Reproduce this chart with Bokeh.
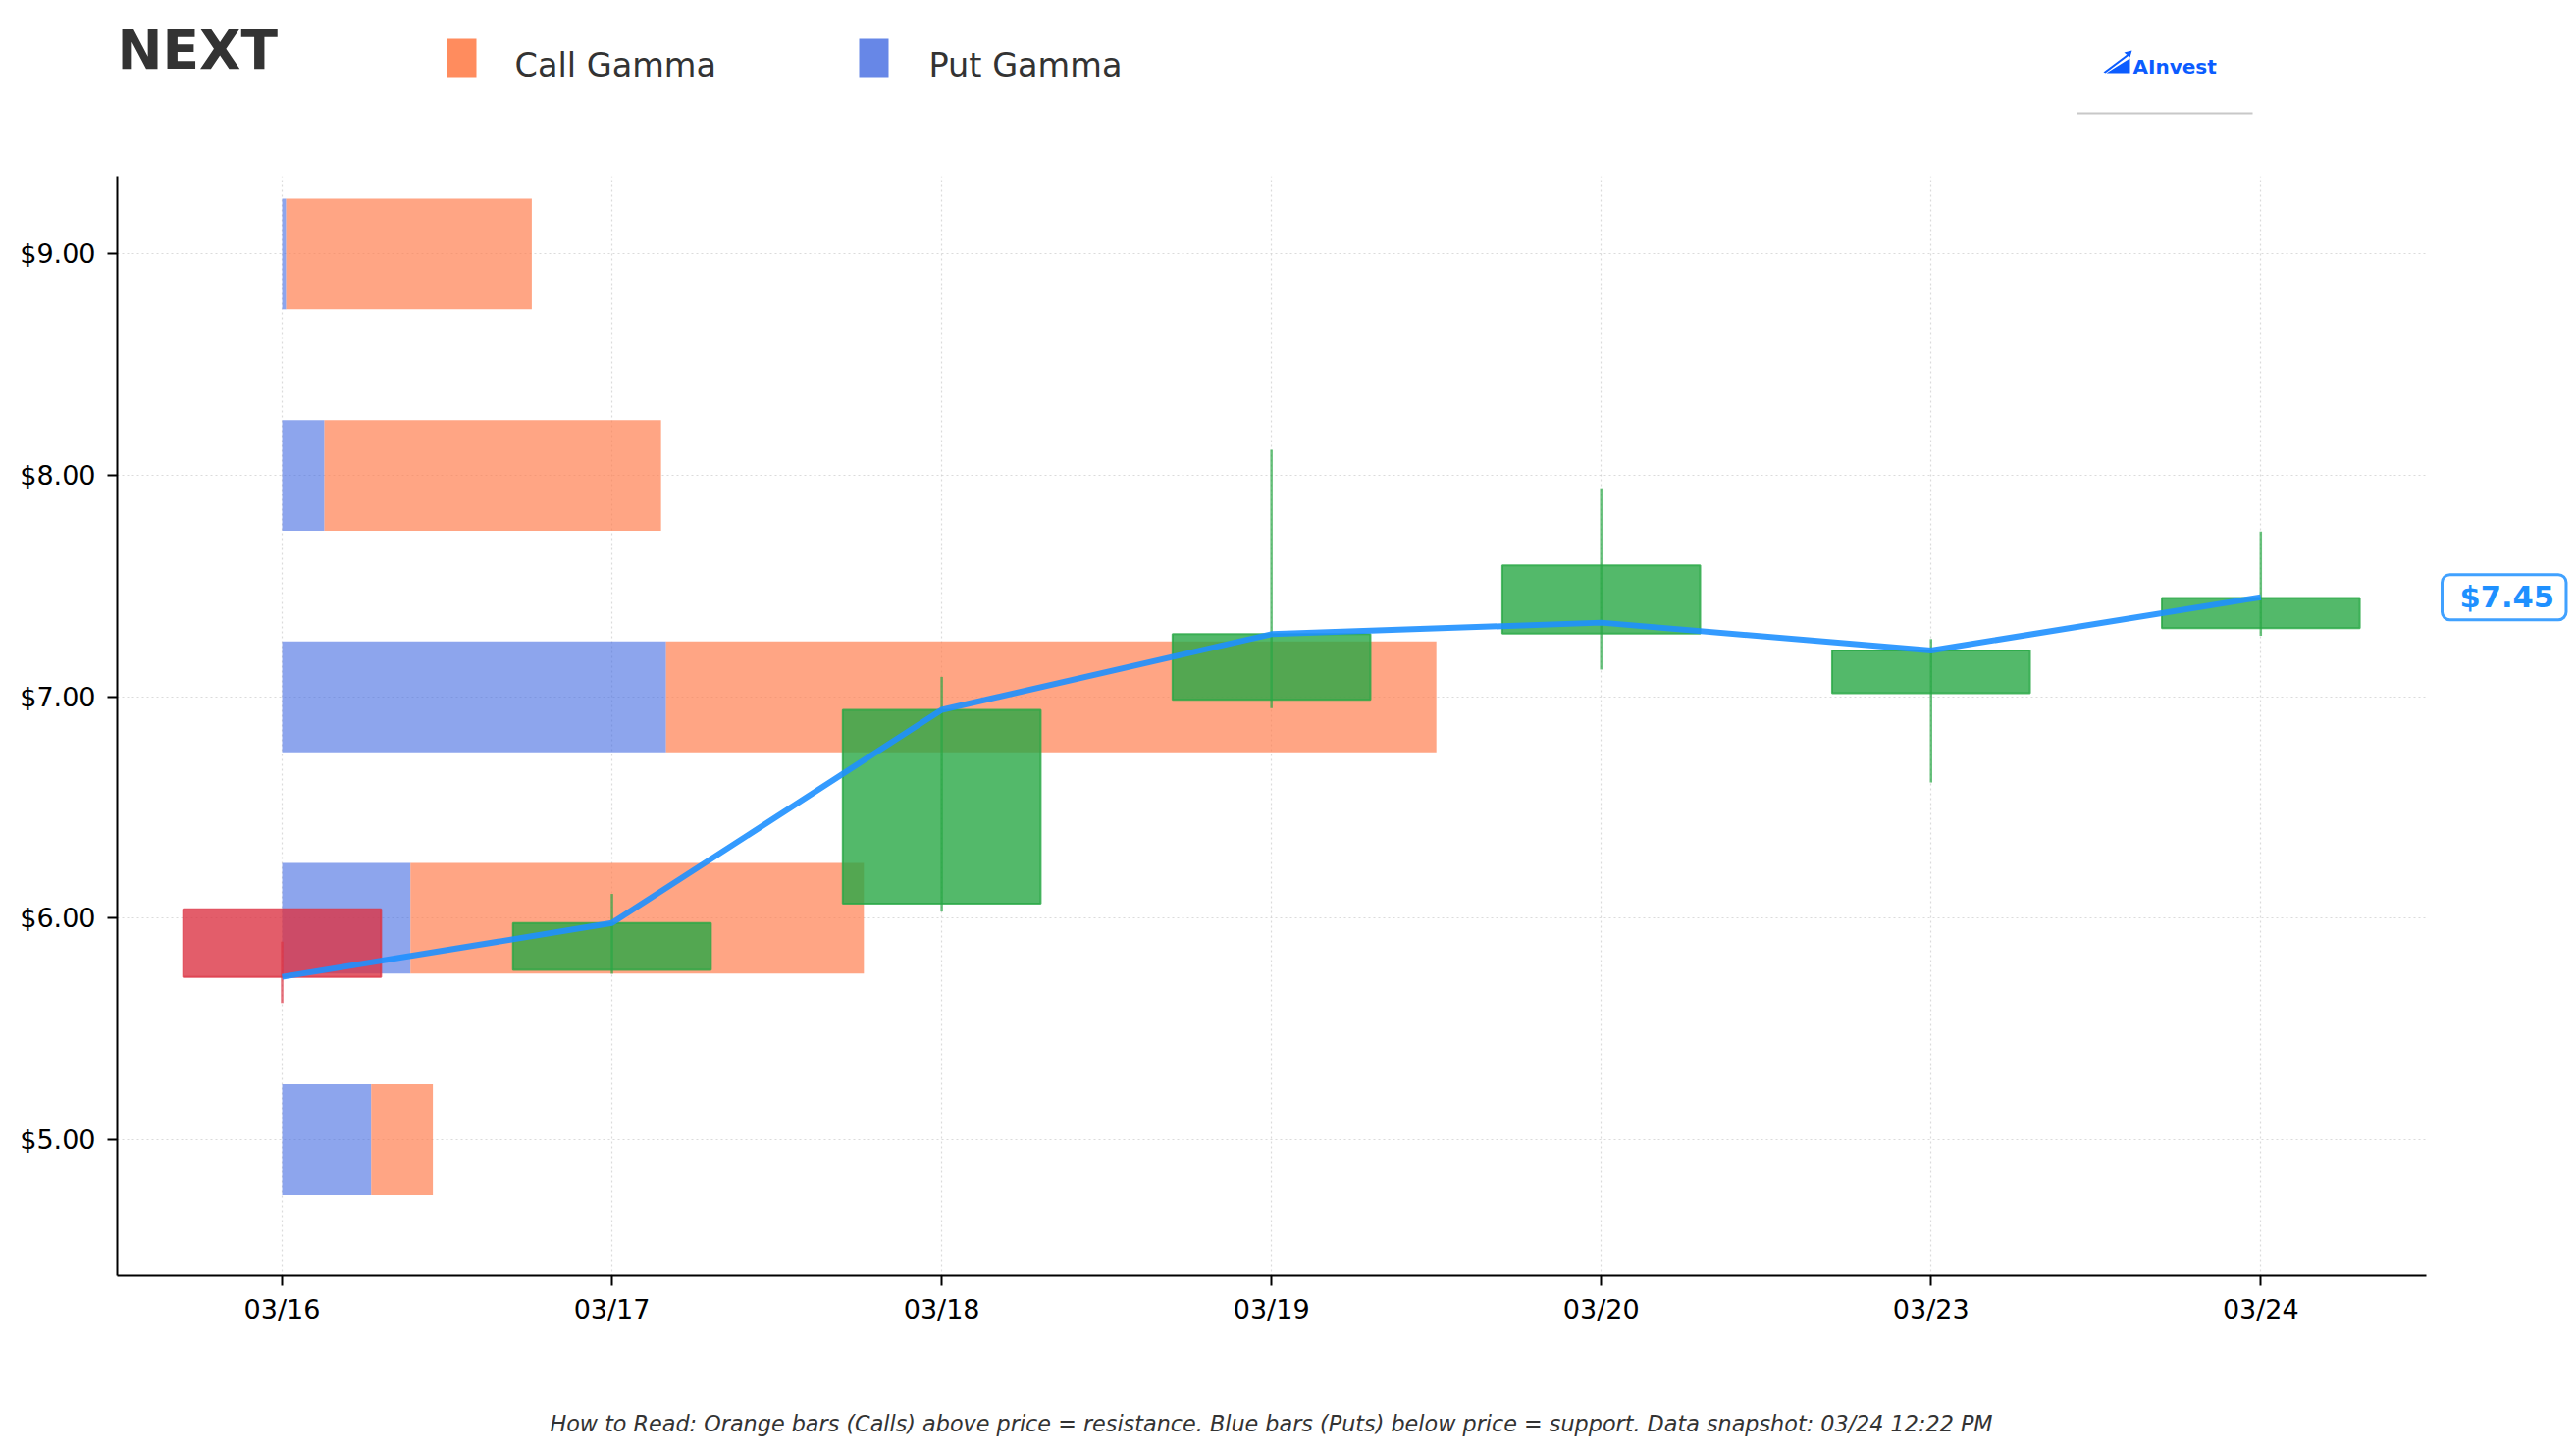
from bokeh.plotting import figure
from bokeh.layouts import column, row
from bokeh.models import (ColumnDataSource, FixedTicker, PrintfTickFormatter, Label, Range1d)
from bokeh.embed import file_html
from bokeh.resources import INLINE

# ---------------- data ----------------
dates = ["03/16", "03/17", "03/18", "03/19", "03/20", "03/23", "03/24"]
opens = [6.04, 5.767, 6.066, 6.987, 7.286, 7.016, 7.310]
closes = [5.735, 5.978, 6.941, 7.283, 7.594, 7.209, 7.446]
highs = [5.894, 6.11, 7.09, 8.116, 7.942, 7.261, 7.747]
lows = [5.617, 5.749, 6.03, 6.949, 7.123, 6.613, 7.276]
price_line = [5.735, 5.978, 6.941, 7.283, 7.335, 7.209, 7.45]
current_price = 7.45

strikes = [5.0, 6.0, 7.0, 8.0, 9.0]
put_gamma = [0.27, 0.389, 1.164, 0.128, 0.012]
call_gamma = [0.187, 1.375, 2.336, 1.021, 0.745]

y_ticks = [5, 6, 7, 8, 9]
ticker_name = "NEXT"
legend_labels = ["Call Gamma", "Put Gamma"]
footer = ("How to Read: Orange bars (Calls) above price = resistance. Blue bars (Puts) "
          "below price = support. Data snapshot: 03/24 12:22 PM")

# ---------------- layout constants ----------------
W, H = 2625, 1484
HEADER_H = 179
MAIN_W = 2480
MAIN_H = 1231
FOOT_H = H - HEADER_H - MAIN_H
FONT = "DejaVu Sans"

CALL = "#FF7F50"
PUT = "#4169E1"
UP = "#28A745"
DOWN = "#DC3545"
LINE = "#1E90FF"
LOGO = "#0B5CFF"


def blank(width, height, y_range=None):
    f = figure(width=width, height=height, x_range=Range1d(0, width),
               y_range=y_range if y_range is not None else Range1d(height, 0),
               output_backend="svg", toolbar_location=None,
               x_axis_type=None, y_axis_type=None, min_border=0,
               min_border_left=0, min_border_right=0, min_border_top=0, min_border_bottom=0)
    f.outline_line_color = None
    f.grid.visible = False
    f.background_fill_color = "white"
    f.border_fill_color = "white"
    return f


def add_label(f, text, x, y, size_px, color="#333333", style="normal", align="left"):
    # y is the intended text baseline (pixels from top of the strip)
    f.add_layout(Label(x=x, y=y - 0.32 * size_px, text=text, text_font=FONT,
                       text_font_size="%gpx" % size_px, text_color=color,
                       text_font_style=style, text_align=align,
                       text_baseline="alphabetic"))


# ---------------- header ----------------
hd = blank(W, HEADER_H)
add_label(hd, ticker_name, 119, 68, 55, style="bold")
hd.quad(left=[455, 875], right=[485, 905], top=[39, 39], bottom=[78, 78],
        fill_color=["#FF8C5E", "#6787E7"], line_color=None)
add_label(hd, legend_labels[0], 524, 77, 33.5)
add_label(hd, legend_labels[1], 946, 77, 33.5)
# logo
hd.patch([2146, 2170, 2170], [74, 74, 59], fill_color=LOGO, line_color=None)
hd.patch([2143, 2145, 2169, 2167], [73, 74, 56, 55], fill_color=LOGO, line_color=None)
hd.patch([2164, 2172, 2170], [53, 51, 58], fill_color=LOGO, line_color=None)
add_label(hd, "AInvest", 2173, 74, 20, color=LOGO, style="bold")
hd.quad(left=[2116], right=[2295], top=[114], bottom=[116], fill_color="#c8c8c8",
        line_color=None)

# ---------------- main chart ----------------
p = figure(width=MAIN_W, height=MAIN_H, x_range=Range1d(-0.5, 6.502),
           y_range=Range1d(4.384, 9.352),
           output_backend="svg", toolbar_location=None,
           min_border_left=119, min_border_right=MAIN_W - 2472, min_border_top=0,
           min_border_bottom=MAIN_H - 1121)
p.outline_line_color = None
p.background_fill_color = "white"
p.border_fill_color = "white"

put_r = [g for g in put_gamma]
call_r = [pg + cg for pg, cg in zip(put_gamma, call_gamma)]
gsrc = ColumnDataSource(dict(y=strikes, put_r=put_r, call_r=call_r))
p.hbar(y="y", left=0, right="put_r", height=0.5, source=gsrc,
       fill_color=PUT, fill_alpha=0.6, line_color=None)
p.hbar(y="y", left="put_r", right="call_r", height=0.5, source=gsrc,
       fill_color=CALL, fill_alpha=0.7, line_color=None)

idx = list(range(len(dates)))
colors = [UP if c >= o else DOWN for o, c in zip(opens, closes)]
csrc = ColumnDataSource(dict(x=idx, o=opens, c=closes, h=highs, l=lows,
                             top=[max(o, c) for o, c in zip(opens, closes)],
                             bot=[min(o, c) for o, c in zip(opens, closes)],
                             col=colors))
p.segment(x0="x", y0="l", x1="x", y1="h", source=csrc, line_color="col",
          line_alpha=0.7, line_width=2.5)
p.vbar(x="x", width=0.6, top="top", bottom="bot", source=csrc,
       fill_color="col", fill_alpha=0.8, line_color="col", line_alpha=0.8, line_width=2)

p.line(idx, price_line, line_color=LINE, line_alpha=0.9, line_width=6, line_join="round")

p.xaxis.ticker = FixedTicker(ticks=idx)
p.xaxis.major_label_overrides = {i: d for i, d in enumerate(dates)}
p.yaxis.ticker = FixedTicker(ticks=y_ticks)
p.yaxis.formatter = PrintfTickFormatter(format="$%.2f")
for ax in (p.xaxis[0], p.yaxis[0]):
    ax.axis_line_width = 2
    ax.axis_line_color = "black"
    ax.major_tick_line_width = 2
    ax.major_tick_line_color = "black"
    ax.major_tick_out = 10
    ax.major_tick_in = 0
    ax.minor_tick_out = 0
    ax.minor_tick_in = 0
    ax.major_label_text_font = FONT
    ax.major_label_text_font_size = "27px"
    ax.major_label_text_color = "black"
p.yaxis.major_label_standoff = 12
p.xaxis.major_label_standoff = 8

p.xgrid.ticker = FixedTicker(ticks=idx)
p.ygrid.ticker = FixedTicker(ticks=y_ticks)
for g in (p.xgrid[0], p.ygrid[0]):
    g.grid_line_color = "#cccccc"
    g.grid_line_alpha = 0.7
    g.grid_line_dash = "2 3"
    g.grid_line_width = 1.2

# ---------------- right side: current price tag ----------------
SIDE_W = W - MAIN_W
side = figure(width=SIDE_W, height=MAIN_H, x_range=Range1d(0, SIDE_W), y_range=p.y_range,
              output_backend="svg", toolbar_location=None, x_axis_type=None,
              y_axis_type=None, min_border=0, min_border_left=0, min_border_right=0,
              min_border_top=0, min_border_bottom=MAIN_H - 1121)
side.outline_line_color = None
side.grid.visible = False
side.background_fill_color = "white"
side.border_fill_color = "white"
side.add_layout(Label(x=2488 - MAIN_W, y=current_price,
                      text="$%.2f" % current_price, text_font=FONT, text_font_size="30.5px",
                      text_font_style="bold", text_color=LINE, text_align="left",
                      text_baseline="middle", background_fill_color="white",
                      border_line_color=LINE, border_line_alpha=0.85, border_line_width=3,
                      border_radius=8, padding=dict(left=18, right=12, top=5, bottom=6)))

# ---------------- footer ----------------
ft = blank(W, FOOT_H)
add_label(ft, footer, 1295, 1458 - HEADER_H - MAIN_H, 22.3, style="italic", align="center")

layout = column(hd, row(p, side, spacing=0), ft, spacing=0)
open("out.html", "w").write(file_html(layout, INLINE))
